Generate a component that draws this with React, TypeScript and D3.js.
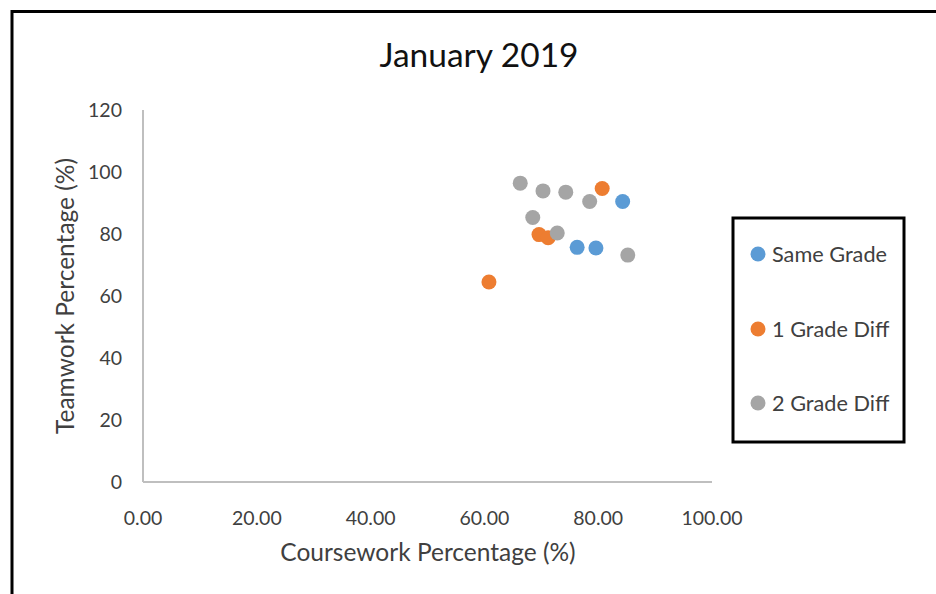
import * as d3 from 'd3'

const title = 'January 2019'
const xTitle = 'Coursework Percentage (%)'
const yTitle = 'Teamwork Percentage (%)'

const seriesNames = ['Same Grade', '1 Grade Diff', '2 Grade Diff']
const seriesColors = ['#5B9BD5', '#ED7D31', '#A5A5A5']

const sameGradeX = [84.3, 76.3, 79.6]
const sameGradeY = [90.5, 75.7, 75.5]
const oneDiffX = [80.7, 69.6, 71.2, 60.8]
const oneDiffY = [94.7, 79.8, 78.8, 64.5]
const twoDiffX = [66.3, 70.3, 74.3, 78.5, 68.5, 72.8, 85.2]
const twoDiffY = [96.4, 93.9, 93.5, 90.5, 85.3, 80.3, 73.2]

const xTicks = [0, 20, 40, 60, 80, 100]
const yTicks = [0, 20, 40, 60, 80, 100, 120]

const W = 936
const H = 594
const font = 'Lato, "Open Sans", sans-serif'
const textColor = '#404040'

export default function App() {
  const x = d3.scaleLinear().domain([0, 100]).range([143, 712])
  const y = d3.scaleLinear().domain([0, 120]).range([482, 110])
  const fmtX = d3.format('.2f')

  const series = [
    { xs: sameGradeX, ys: sameGradeY },
    { xs: oneDiffX, ys: oneDiffY },
    { xs: twoDiffX, ys: twoDiffY },
  ]

  // legend box + rows
  const legX = 733
  const legY = 218
  const legW = 171
  const legH = 224
  const legRows = [254, 329, 403]

  return (
    <svg
      width={W}
      height={H}
      style={{ position: 'absolute', left: 0, top: 0, background: '#fff' }}
    >
      <rect x={12} y={11.5} width={W + 20} height={H + 20} fill="#fff" stroke="#000" strokeWidth={3} />

      <text x={479} y={67} textAnchor="middle" fontFamily={font} fontSize={33.5} fill="#111">
        {title}
      </text>

      {/* axes */}
      <line x1={x(0)} x2={x(0)} y1={y(120)} y2={y(0)} stroke="#BFBFBF" strokeWidth={2} />
      <line x1={x(0)} x2={x(100)} y1={y(0)} y2={y(0)} stroke="#BFBFBF" strokeWidth={2} />

      {yTicks.map(t => (
        <text key={t} x={122} y={y(t)} dy="0.35em" textAnchor="end" fontFamily={font} fontSize={19.5} fill={textColor}>
          {t}
        </text>
      ))}
      {xTicks.map(t => (
        <text key={t} x={x(t)} y={518} dy="0.35em" textAnchor="middle" fontFamily={font} fontSize={19.5} fill={textColor}>
          {fmtX(t)}
        </text>
      ))}

      <text x={428} y={552} dy="0.35em" textAnchor="middle" fontFamily={font} fontSize={24.5} fill={textColor}>
        {xTitle}
      </text>
      <text
        transform={`translate(65,${(y(0) + y(120)) / 2}) rotate(-90)`}
        dy="0.35em"
        textAnchor="middle"
        fontFamily={font}
        fontSize={24.5}
        fill={textColor}
      >
        {yTitle}
      </text>

      {/* points */}
      {series.map((s, i) => (
        <g key={i}>
          {s.xs.map((v, j) => (
            <circle key={j} cx={x(v)} cy={y(s.ys[j])} r={7.5} fill={seriesColors[i]} />
          ))}
        </g>
      ))}

      {/* legend */}
      <rect x={legX} y={legY} width={legW} height={legH} fill="#fff" stroke="#000" strokeWidth={3} />
      {seriesNames.map((n, i) => (
        <g key={n}>
          <circle cx={758} cy={legRows[i]} r={7.5} fill={seriesColors[i]} />
          <text x={772} y={legRows[i]} dy="0.35em" fontFamily={font} fontSize={21.7} fill={textColor}>
            {n}
          </text>
        </g>
      ))}
    </svg>
  )
}
